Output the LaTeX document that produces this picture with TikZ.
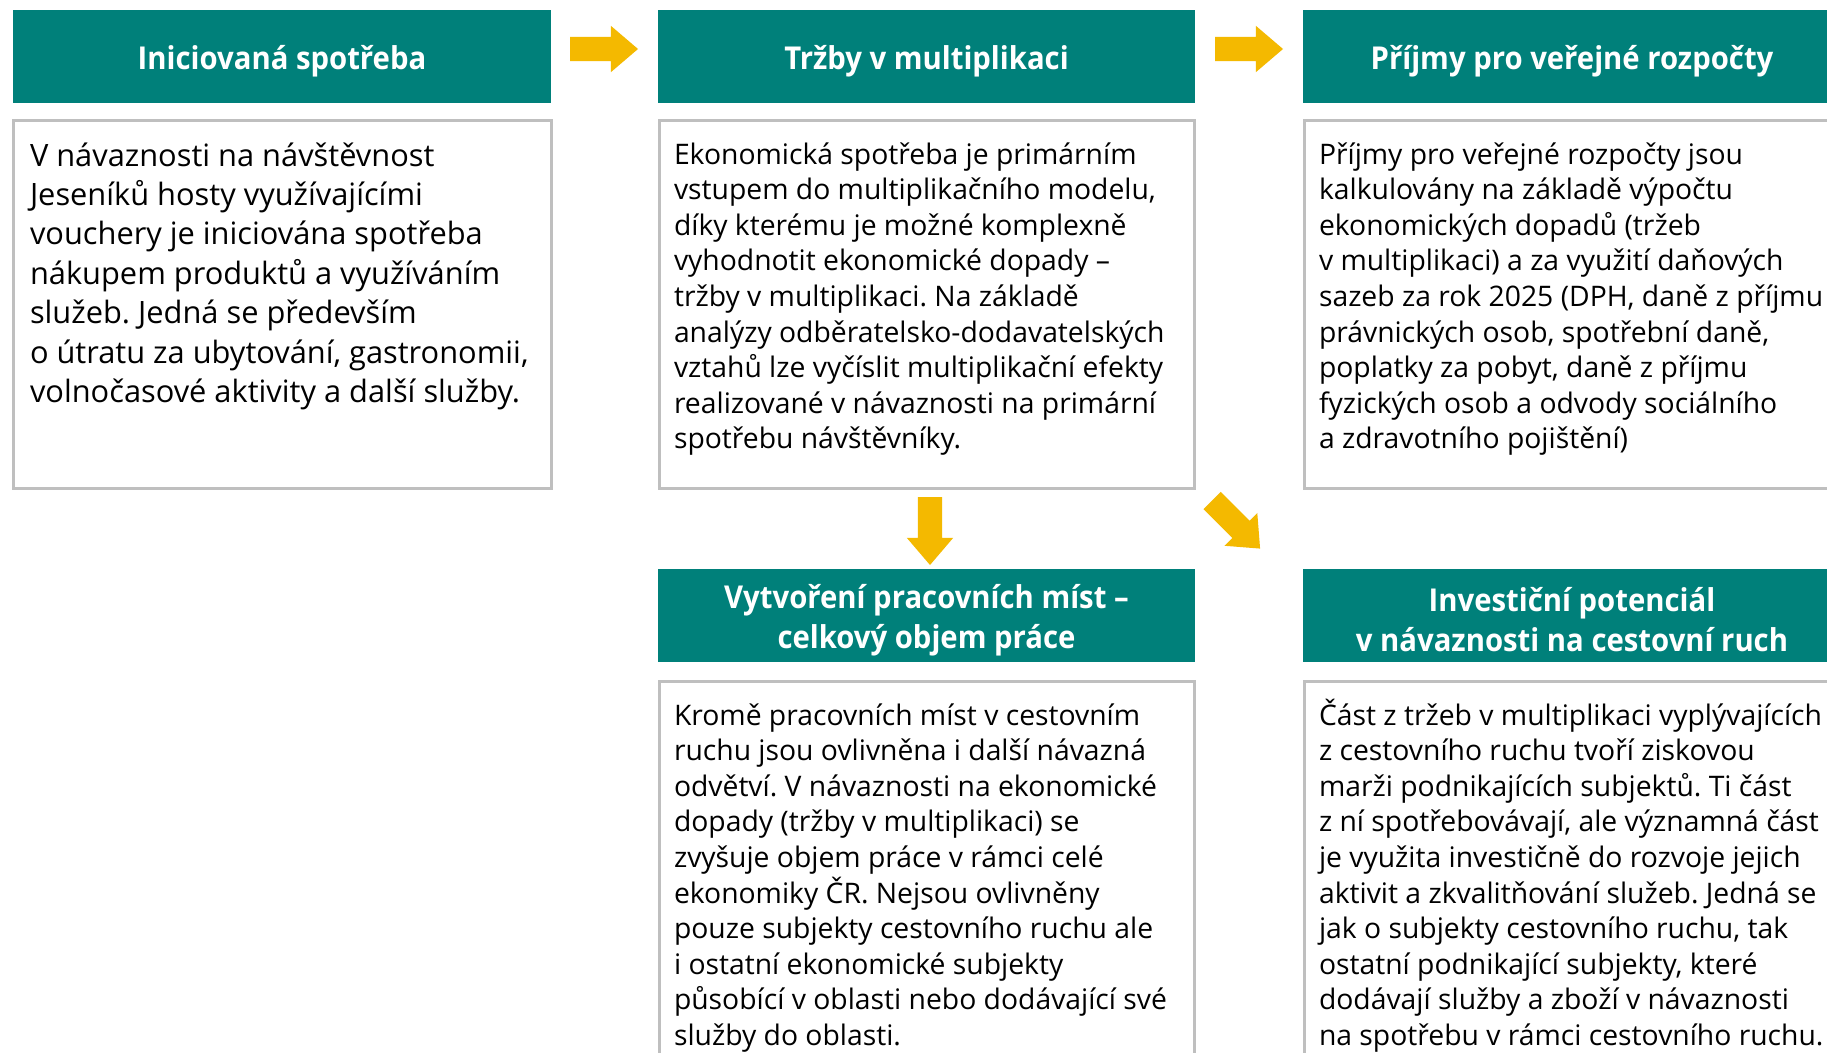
\documentclass[tikz,border=0pt]{standalone}
\usepackage{fontspec}
\setmainfont{Open Sans}
\newfontfamily\hdrfont{Open Sans}[FakeStretch=0.93]
\usetikzlibrary{shapes.arrows}
\definecolor{hdrteal}{RGB}{0,128,122}
\definecolor{arrowyel}{RGB}{244,185,0}
\definecolor{boxgray}{RGB}{191,191,191}
\tikzset{
  hdr/.style={fill=hdrteal, minimum width=538pt, minimum height=93pt,
    inner sep=0pt, outer sep=0pt},
  hdrtext/.style={text=white, inner sep=0pt, align=center, yshift=-4.5pt,
    font=\hdrfont\bfseries\fontsize{31.5}{40}\selectfont},
  txtbox/.style={draw=boxgray, line width=3pt, fill=white, inner sep=0pt, outer sep=0pt, anchor=north west},
  body/.style={anchor=north west, inner sep=0pt, outer sep=0pt, align=left, text=black},
  bigbody/.style={body, font=\fontsize{30.8}{39.4}\selectfont},
  smallbody/.style={body, font=\fontsize{28.3}{35.6}\selectfont},
  blockarrow/.style={single arrow, fill=arrowyel, draw=none, minimum height=68pt, minimum width=0pt,
    single arrow head extend=11pt, single arrow tip angle=81, inner xsep=0pt, inner ysep=12pt,
    outer sep=0pt, anchor=tail}
}
\frenchspacing
\begin{document}
\frenchspacing
\begin{tikzpicture}[x=1pt,y=-1pt]
\useasboundingbox (0,0) rectangle (1827,1052);
\fill[white] (0,0) rectangle (1827,1052);

% headers
\node[hdr] (h1) at (282,56.5) {};
\node[hdr, minimum width=537pt] (h2) at (926.5,56.5) {};
\node[hdr] (h3) at (1572,56.5) {};
\node[hdr, minimum width=537pt] (h4) at (926.5,615.5) {};
\node[hdr] (h5) at (1572,615.5) {};
\node[hdrtext] (h1t) at (h1) {Iniciovaná spotřeba};
\node[hdrtext] (h2t) at (h2) {Tržby v multiplikaci};
\node[hdrtext] (h3t) at (h3) {Příjmy pro veřejné rozpočty};
\node[hdrtext] (h4t) at (h4) {Vytvoření pracovních míst –\\celkový objem práce};
\node[hdrtext] (h5t) at (h5) {Investiční potenciál\\v návaznosti na cestovní ruch};

% text boxes
\node[txtbox, minimum width=538pt, minimum height=368pt] (b1) at (13.5,120.5) {};
\node[txtbox, minimum width=535pt, minimum height=368pt] (b2) at (659.5,120.5) {};
\node[txtbox, minimum width=560pt, minimum height=368pt] (b3) at (1304.5,120.5) {};
\node[txtbox, minimum width=535pt, minimum height=450pt] (b4) at (659.5,681.5) {};
\node[txtbox, minimum width=560pt, minimum height=450pt] (b5) at (1304.5,681.5) {};

% texts
\node[bigbody] (t1) at (30,136) {\rule{0pt}{30pt}V návaznosti na návštěvnost\\
Jeseníků hosty využívajícími\\
vouchery je iniciována spotřeba\\
nákupem produktů a využíváním\\
služeb. Jedná se především\\
o útratu za ubytování, gastronomii,\\
volnočasové aktivity a další služby.};

\node[smallbody] (t2) at (674,134) {\rule{0pt}{30pt}Ekonomická spotřeba je primárním\\
vstupem do multiplikačního modelu,\\
díky kterému je možné komplexně\\
vyhodnotit ekonomické dopady –\\
tržby v multiplikaci. Na základě\\
analýzy odběratelsko-dodavatelských\\
vztahů lze vyčíslit multiplikační efekty\\
realizované v návaznosti na primární\\
spotřebu návštěvníky.};

\node[smallbody] (t3) at (1319,134) {\rule{0pt}{30pt}Příjmy pro veřejné rozpočty jsou\\
kalkulovány na základě výpočtu\\
ekonomických dopadů (tržeb\\
v multiplikaci) a za využití daňových\\
sazeb za rok 2025 (DPH, daně z příjmu\\
právnických osob, spotřební daně,\\
poplatky za pobyt, daně z příjmu\\
fyzických osob a odvody sociálního\\
a zdravotního pojištění)};

\node[smallbody] (t4) at (674,695) {\rule{0pt}{30pt}Kromě pracovních míst v cestovním\\
ruchu jsou ovlivněna i další návazná\\
odvětví. V návaznosti na ekonomické\\
dopady (tržby v multiplikaci) se\\
zvyšuje objem práce v rámci celé\\
ekonomiky ČR. Nejsou ovlivněny\\
pouze subjekty cestovního ruchu ale\\
i ostatní ekonomické subjekty\\
působící v oblasti nebo dodávající své\\
služby do oblasti.};

\node[smallbody] (t5) at (1319,695) {\rule{0pt}{30pt}Část z tržeb v multiplikaci vyplývajících\\
z cestovního ruchu tvoří ziskovou\\
marži podnikajících subjektů. Ti část\\
z ní spotřebovávají, ale významná část\\
je využita investičně do rozvoje jejich\\
aktivit a zkvalitňování služeb. Jedná se\\
jak o subjekty cestovního ruchu, tak\\
ostatní podnikající subjekty, které\\
dodávají služby a zboží v návaznosti\\
na spotřebu v rámci cestovního ruchu.};

% block arrows
\node[blockarrow] (a1) at (570,49) {};
\node[blockarrow] (a2) at (1215,49) {};
\node[blockarrow, rotate=-90] (a3) at (930,497) {};
\node[blockarrow, rotate=-45] (a4) at (1212,500.5) {};
\end{tikzpicture}
\end{document}
